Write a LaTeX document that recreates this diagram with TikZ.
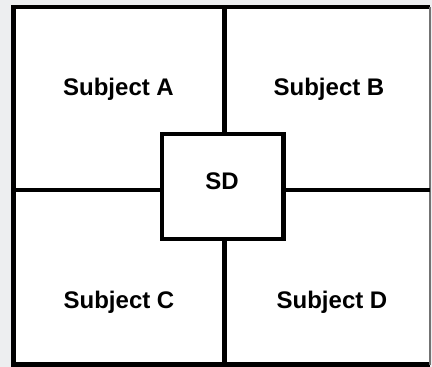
\documentclass[tikz,border=0pt]{standalone}
\usepackage{fontspec}
\setmainfont{Liberation Sans}
\definecolor{pagebg}{HTML}{EDEEF0}
\tikzset{
  frame/.style={line width=4.5pt, black},
  divider/.style={line width=4.5pt, black},
  centrebox/.style={draw, line width=4.5pt, fill=white, minimum width=121.5pt,
    minimum height=105pt, inner sep=0pt},
  subjlabel/.style={font=\bfseries\fontsize{24}{28}\selectfont, inner sep=0pt, anchor=base},
}
\begin{document}
\begin{tikzpicture}[x=1pt, y=-1pt]
\useasboundingbox (0,0) rectangle (432,367);
\fill[pagebg] (0,0) rectangle (432,367);
\fill[white] (13.5,7) rectangle (430,364.5);

% outer frame corners and divider end points
\coordinate (tl) at (13.5,7);
\coordinate (tr) at (430,7);
\coordinate (bl) at (13.5,364.5);
\coordinate (br) at (430,364.5);
\coordinate (topmid) at (224.5,7);
\coordinate (botmid) at (224.5,364.5);
\coordinate (leftmid) at (13.5,190);
\coordinate (rightmid) at (430,190);

\draw[frame] (tr) -- (tl) -- (bl) -- (br);
\draw[line width=1.5pt, black!55] (tr) -- (br);

% central box
\node[centrebox] (sd) at (222.75,186.5) {};

% dividers meeting the central box
\draw[divider] (topmid) -- (topmid |- sd.north);
\draw[divider] (botmid) -- (botmid |- sd.south);
\draw[divider] (leftmid) -- (leftmid -| sd.west);
\draw[divider] (rightmid) -- (rightmid -| sd.east);

% labels
\node[subjlabel] (sdtext) at (222,189) {SD};
\node[subjlabel] (subja) at (118.5,95) {Subject A};
\node[subjlabel] (subjb) at (329,95) {Subject B};
\node[subjlabel] (subjc) at (119,308.5) {Subject C};
\node[subjlabel] (subjd) at (332,308.5) {Subject D};
\end{tikzpicture}
\end{document}
